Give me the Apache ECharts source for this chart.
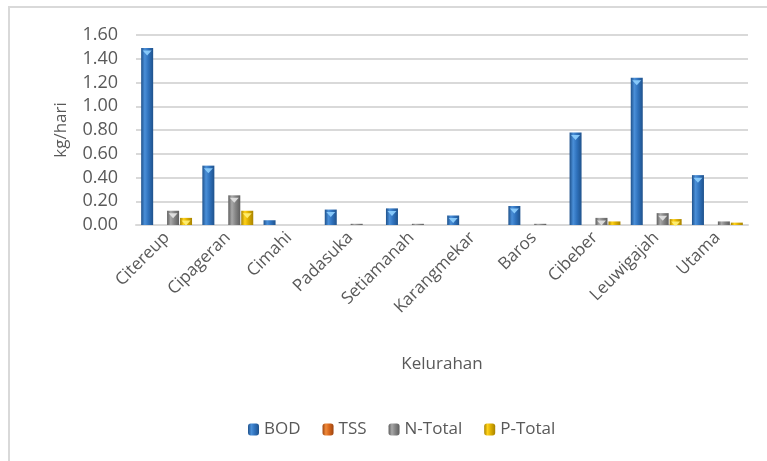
<!DOCTYPE html>
<html>
<head>
<meta charset="utf-8">
<script src="https://cdn.jsdelivr.net/npm/echarts@6/dist/echarts.min.js"></script>
<style>
  html, body { margin: 0; padding: 0; background: #fff; }
  #chart { width: 767px; height: 461px; }
</style>
</head>
<body>
<div id="chart"></div>
<script>
// Beban pencemar per kelurahan (kg/hari)
const categories = ['Citereup', 'Cipageran', 'Cimahi', 'Padasuka', 'Setiamanah', 'Karangmekar', 'Baros', 'Cibeber', 'Leuwigajah', 'Utama'];
const bod    = [1.49, 0.50, 0.04, 0.13, 0.14, 0.08, 0.16, 0.78, 1.24, 0.42];
const tss    = [0, 0, 0, 0, 0, 0, 0, 0, 0, 0];
const nTotal = [0.12, 0.25, 0, 0.01, 0.01, 0, 0.01, 0.06, 0.10, 0.03];
const pTotal = [0.06, 0.12, 0, 0, 0, 0, 0, 0.03, 0.05, 0.02];
const yTicks = { min: 0, max: 1.6, interval: 0.2 };

const FONT = '"Open Sans", Lato, sans-serif';
const TEXT = '#595959';

function shade(dark, mid, light) {
  return {
    type: 'linear', x: 0, y: 0, x2: 1, y2: 0,
    colorStops: [
      { offset: 0, color: dark },
      { offset: 0.3, color: light },
      { offset: 0.6, color: mid },
      { offset: 1, color: dark }
    ]
  };
}

const palette = {
  BOD: shade('#1f528c', '#2f72bd', '#4a8fd8'),
  TSS: shade('#9c4410', '#d8671c', '#f08a3a'),
  'N-Total': shade('#5e5e5e', '#858585', '#a8a8a8'),
  'P-Total': shade('#a88300', '#dcae00', '#ffd21a')
};
const capColor = {
  BOD: '#8fd0ff',
  TSS: '#ffc080',
  'N-Total': '#e6e6e6',
  'P-Total': '#fff27a'
};

const BAR_W = 12;
const BAR_GAP = '8%';
const CAP_MIN = 0.05; // bars shorter than this get no bevel

function barSeries(name, data) {
  return {
    name: name,
    type: 'bar',
    data: data,
    barWidth: BAR_W,
    barGap: BAR_GAP,
    itemStyle: { color: palette[name] }
  };
}

// light bevel triangle sitting on the top of each bar
function capSeries(name, data) {
  return {
    name: name,
    type: 'pictorialBar',
    data: data.map(v => (v >= CAP_MIN ? v : '-')),
    barWidth: BAR_W,
    barGap: BAR_GAP,
    symbol: 'triangle',
    symbolRotate: 180,
    symbolSize: [BAR_W - 3, 5],
    symbolPosition: 'end',
    symbolOffset: [0, '50%'],
    z: 3,
    silent: true,
    itemStyle: { color: capColor[name], opacity: 0.9 }
  };
}

const names = ['BOD', 'TSS', 'N-Total', 'P-Total'];
const values = [bod, tss, nTotal, pTotal];

const chart = echarts.init(document.getElementById('chart'));
chart.setOption({
  backgroundColor: '#ffffff',
  animation: false,
  graphic: [{
    type: 'rect',
    shape: { x: 9, y: 7, width: 800, height: 500 },
    style: { fill: 'none', stroke: '#d9d9d9', lineWidth: 2 },
    silent: true
  }],
  legend: {
    data: names.map(n => ({ name: n, itemStyle: { color: palette[n] } })),
    bottom: 18,
    left: 243,
    itemWidth: 11,
    itemHeight: 12,
    itemGap: 22,
    textStyle: { fontFamily: FONT, fontSize: 17, color: TEXT }
  },
  grid: { left: 136, right: 19, top: 35, bottom: 236, containLabel: false },
  xAxis: {
    type: 'category',
    data: categories,
    name: 'Kelurahan',
    nameLocation: 'middle',
    nameGap: 131,
    nameTextStyle: { fontFamily: FONT, fontSize: 17, color: TEXT },
    axisLine: { lineStyle: { color: '#d9d9d9', width: 2 } },
    axisTick: { show: false },
    axisLabel: { rotate: 45, interval: 0, margin: 10, fontFamily: FONT, fontSize: 17, color: TEXT }
  },
  yAxis: {
    type: 'value',
    min: yTicks.min,
    max: yTicks.max,
    interval: yTicks.interval,
    name: 'kg/hari',
    nameLocation: 'middle',
    nameGap: 66,
    nameTextStyle: { fontFamily: FONT, fontSize: 17, color: TEXT },
    axisLine: { show: false },
    axisTick: { show: false },
    splitLine: { lineStyle: { color: '#d9d9d9', width: 2 } },
    axisLabel: {
      margin: 18,
      fontFamily: FONT, fontSize: 18, color: TEXT,
      formatter: v => v.toFixed(2)
    }
  },
  series: names.map((n, i) => barSeries(n, values[i]))
    .concat(names.map((n, i) => capSeries(n, values[i])))
});
</script>
</body>
</html>
